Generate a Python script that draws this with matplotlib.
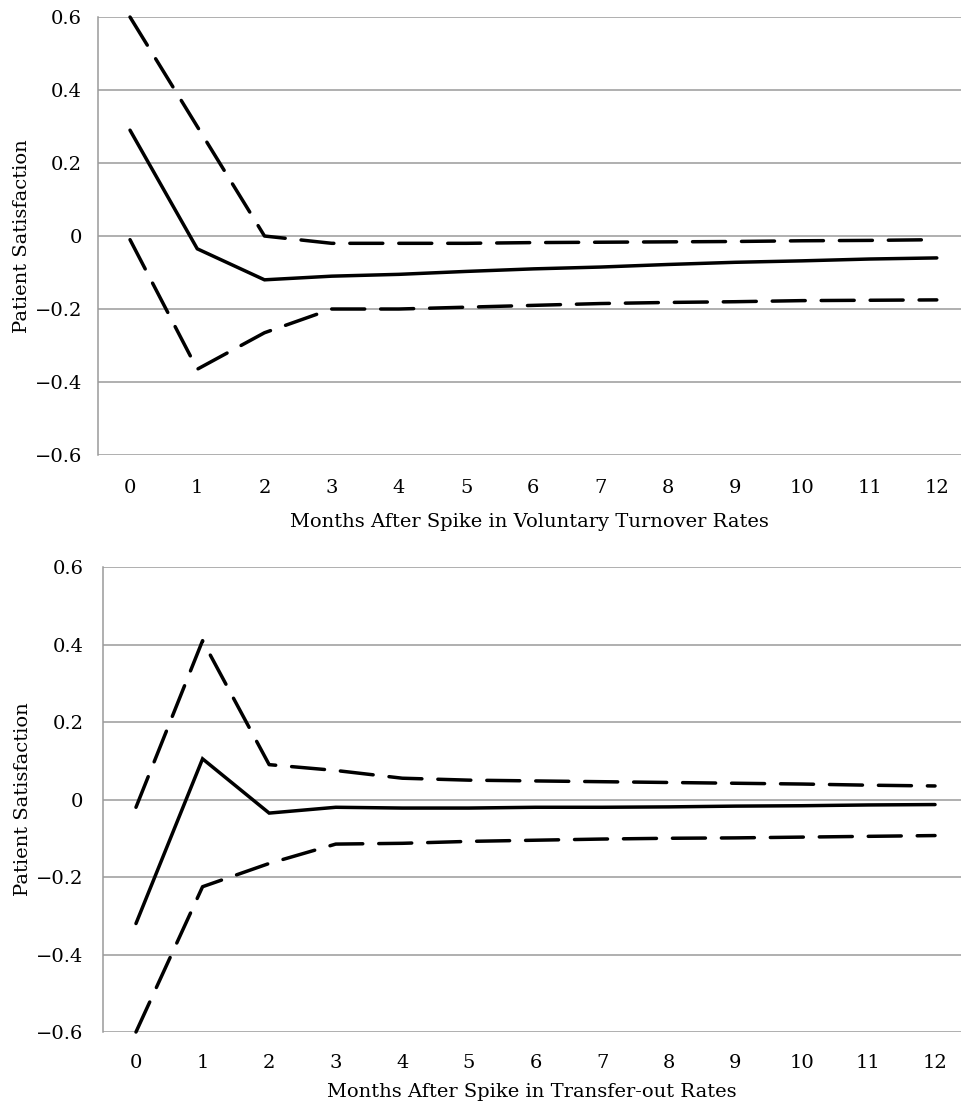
import matplotlib.pyplot as plt

months = list(range(13))

# voluntary turnover panel
vol_upper = [0.6, 0.3, 0.0, -0.02, -0.02, -0.02, -0.018, -0.017, -0.016, -0.015, -0.013, -0.012, -0.01]
vol_mid = [0.29, -0.035, -0.12, -0.11, -0.105, -0.097, -0.09, -0.085, -0.078, -0.072, -0.068, -0.063, -0.06]
vol_lower = [-0.01, -0.365, -0.265, -0.2, -0.2, -0.195, -0.19, -0.185, -0.182, -0.18, -0.177, -0.176, -0.175]

# transfer-out panel
tr_upper = [-0.02, 0.41, 0.09, 0.075, 0.055, 0.05, 0.048, 0.046, 0.044, 0.042, 0.04, 0.037, 0.035]
tr_mid = [-0.32, 0.105, -0.035, -0.02, -0.022, -0.022, -0.02, -0.02, -0.019, -0.017, -0.016, -0.014, -0.013]
tr_lower = [-0.6, -0.225, -0.165, -0.115, -0.113, -0.108, -0.105, -0.102, -0.1, -0.099, -0.097, -0.095, -0.093]

yticks = [-0.6, -0.4, -0.2, 0, 0.2, 0.4, 0.6]
ytick_labels = ["\u22120.6", "\u22120.4", "\u22120.2", "0", "0.2", "0.4", "0.6"]

xlabels = ["Months After Spike in Voluntary Turnover Rates",
           "Months After Spike in Transfer-out Rates"]

plt.rcParams['font.family'] = ['DejaVu Serif']
grey = '#9a9a9a'


def draw_panel(ax, upper, mid, lower, xlabel, xlim, xpad, ypad, lpad, ylab_x):
    ax.set_ylim(-0.6, 0.6)
    ax.set_xlim(*xlim)
    for y in yticks:
        ax.axhline(y, color=grey, lw=1.1, zorder=0)
    ax.plot(months, upper, color='black', lw=2.5, linestyle=(0, (9.5, 4.6)),
            dash_capstyle='round', clip_on=False)
    ax.plot(months, mid, color='black', lw=2.5, solid_capstyle='round',
            solid_joinstyle='miter', clip_on=False)
    ax.plot(months, lower, color='black', lw=2.5, linestyle=(0, (9.5, 4.6)),
            dash_capstyle='round', clip_on=False)
    for s in ['top', 'right', 'bottom']:
        ax.spines[s].set_visible(False)
    ax.spines['left'].set_color(grey)
    ax.spines['left'].set_linewidth(1.1)
    ax.set_yticks(yticks)
    ax.set_yticklabels(ytick_labels)
    ax.set_xticks(months)
    ax.tick_params(axis='both', length=0, labelsize=14)
    ax.tick_params(axis='x', pad=xpad)
    ax.tick_params(axis='y', pad=ypad)
    ax.set_xlabel(xlabel, fontsize=14, labelpad=lpad)
    ax.set_ylabel("Patient Satisfaction", fontsize=14)
    ax.yaxis.set_label_coords(ylab_x, 0.5)


fig = plt.figure(figsize=(9.61, 11.06), dpi=100)
ax1 = fig.add_axes([0.102, 0.5886, 0.898, 0.396])
ax2 = fig.add_axes([0.1072, 0.0669, 0.8928, 0.4204])

draw_panel(ax1, vol_upper, vol_mid, vol_lower, xlabels[0], (-0.476, 12.36),
           17.5, 11.5, 11, -0.078)
draw_panel(ax2, tr_upper, tr_mid, tr_lower, xlabels[1], (-0.495, 12.39),
           16, 14, 8, -0.083)

fig.savefig("out.png", dpi=100)
